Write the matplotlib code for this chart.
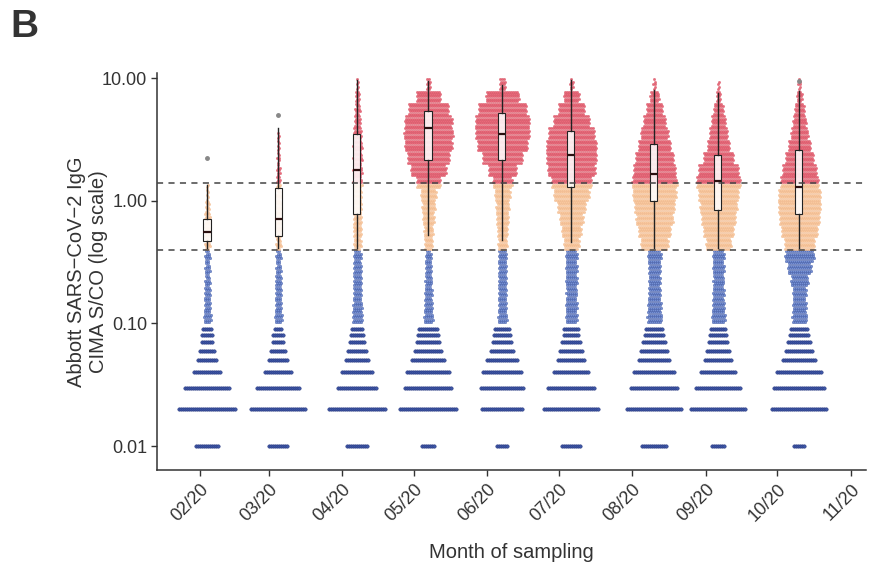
import numpy as np
import pandas as pd
import matplotlib
matplotlib.use("Agg")
import matplotlib.pyplot as plt
import matplotlib.dates as mdates

plt.rcParams['font.family'] = ['Liberation Sans', 'DejaVu Sans']

# ---- data ----
tick_labels = ['02/20', '03/20', '04/20', '05/20', '06/20', '07/20', '08/20', '09/20', '10/20', '11/20']
tick_dates = ['2020-02-01', '2020-03-01', '2020-04-01', '2020-05-01', '2020-06-01',
              '2020-07-01', '2020-08-01', '2020-09-01', '2020-10-01', '2020-11-01']
# where each monthly swarm is centred
centre_dates = ['2020-02-04', '2020-03-05', '2020-04-07', '2020-05-07', '2020-06-07',
                '2020-07-06', '2020-08-10', '2020-09-06', '2020-10-10']

# discrete low readings 0.01 .. 0.09 (dots per row)
low_levels = [0.01, 0.02, 0.03, 0.04, 0.05, 0.06, 0.07, 0.08, 0.09]
low_counts = [
    [12, 29, 23, 14, 10, 8, 6, 6, 5],
    [10, 28, 22, 14, 10, 8, 6, 6, 4],
    [11, 29, 20, 16, 12, 10, 8, 7, 6],
    [7, 29, 24, 22, 17, 14, 12, 11, 10],
    [6, 21, 22, 20, 16, 12, 10, 9, 8],
    [10, 28, 24, 18, 14, 12, 10, 8, 8],
    [13, 28, 24, 21, 16, 14, 12, 10, 9],
    [7, 28, 23, 18, 14, 12, 10, 9, 8],
    [6, 28, 26, 23, 17, 14, 12, 10, 9],
]

# dots per log bin (0.1 decade wide) from 0.1 up to 10
bin_edges = np.logspace(-1, 1, 21)
bin_counts = [
    [18, 15, 15, 12, 12, 12, 12, 15, 15, 10, 5, 2, 0, 0, 0, 0, 0, 0, 0, 0],
    [18, 15, 15, 15, 12, 12, 12, 15, 15, 15, 12, 10, 8, 6, 5, 3, 0, 0, 0, 0],
    [25, 22, 20, 20, 20, 18, 18, 20, 20, 20, 20, 22, 22, 22, 22, 20, 15, 12, 10, 5],
    [22, 20, 18, 16, 15, 14, 20, 22, 28, 32, 38, 60, 88, 105, 118, 122, 118, 100, 60, 10],
    [22, 20, 20, 20, 20, 20, 22, 25, 30, 32, 38, 48, 70, 100, 125, 135, 135, 120, 82, 15],
    [28, 28, 26, 28, 28, 28, 38, 48, 58, 70, 88, 100, 118, 125, 125, 115, 90, 65, 38, 8],
    [36, 33, 30, 28, 30, 33, 68, 80, 92, 100, 108, 112, 105, 95, 80, 68, 55, 40, 22, 6],
    [33, 30, 28, 26, 28, 28, 62, 75, 85, 92, 100, 110, 100, 75, 55, 45, 35, 24, 10, 4],
    [36, 33, 33, 42, 58, 72, 75, 90, 100, 105, 105, 95, 85, 70, 55, 42, 32, 24, 13, 6],
]

# box plots (computed over reactive samples)
box_low = [0.41, 0.41, 0.41, 0.53, 0.48, 0.46, 0.41, 0.41, 0.41]
box_q1 = [0.47, 0.52, 0.78, 2.13, 2.16, 1.29, 0.99, 0.845, 0.78]
box_med = [0.556, 0.71, 1.79, 3.92, 3.52, 2.34, 1.66, 1.44, 1.29]
box_q3 = [0.71, 1.28, 3.52, 5.36, 5.2, 3.68, 2.90, 2.37, 2.61]
box_high = [1.35, 3.92, 9.6, 9.4, 8.85, 9.6, 7.95, 7.57, 7.8]
box_out = [[2.23], [5.04], [], [], [], [], [], [], [9.4]]

cut_low, cut_high = 0.4, 1.4

# ---- figure ----
fig = plt.figure(figsize=(8.69, 5.71), dpi=100)
ax = fig.add_axes([0.1807, 0.1769, 0.8159, 0.6953])

x_lo = mdates.date2num(pd.Timestamp('2020-01-14'))
x_hi = mdates.date2num(pd.Timestamp('2020-11-07 08:00'))
ax.set_xlim(x_lo, x_hi)
ax.set_yscale('log')
ax.set_ylim(0.0064, 11)

# horizontal spacing of dots: ~2 px expressed in days
px_per_day = 0.8159 * 869 / (x_hi - x_lo)
dx = 2.0 / px_per_day

xs, ys = [], []


def add_row(cx, y, n, shift):
    for i in range(n):
        xs.append(cx + (i - (n - 1) / 2) * dx + shift)
        ys.append(y)


low_x, low_y = [], []
for m, cd in enumerate(centre_dates):
    cx = mdates.date2num(pd.Timestamp(cd))
    for lv, n in zip(low_levels, low_counts[m]):
        for i in range(n):
            low_x.append(cx + (i - (n - 1) / 2) * dx)
            low_y.append(lv)
    for b, n in enumerate(bin_counts[m]):
        if n == 0:
            continue
        lo = np.log10(bin_edges[b])
        rows = min(5, n)
        per = [n // rows] * rows
        for k in range(n % rows):
            per[k] += 1
        order = [2, 1, 3, 0, 4][:rows] if rows == 5 else list(range(rows))
        for r, cnt in zip(order, per):
            y = 10 ** (lo + (r + 0.5) * 0.02)
            add_row(cx, y, cnt, dx / 2 if r % 2 else 0)

xs = np.array(xs)
ys = np.array(ys)

blue = ys < cut_low
orange = (ys >= cut_low) & (ys < cut_high)
red = ys >= cut_high
ax.scatter(low_x, low_y, s=6, c='#3f58a8', edgecolors='#26367e', linewidths=0.4, zorder=2)
ax.scatter(xs[blue], ys[blue], s=3.0, c='#7590d4', edgecolors='#3d55a0', linewidths=0.3, zorder=2)
ax.scatter(xs[orange], ys[orange], s=2.8, c='#f8c9a0', edgecolors='#f0b080', linewidths=0.25, zorder=2)
ax.scatter(xs[red], ys[red], s=2.8, c='#e86a7b', edgecolors='#d44658', linewidths=0.25, zorder=2)

# boxes
stats = []
for m in range(len(centre_dates)):
    stats.append(dict(whislo=box_low[m], q1=box_q1[m], med=box_med[m], q3=box_q3[m],
                      whishi=box_high[m], fliers=box_out[m]))
pos = [mdates.date2num(pd.Timestamp(d)) for d in centre_dates]
ax.bxp(stats, positions=pos, widths=3.0, showcaps=False, patch_artist=True,
       boxprops=dict(facecolor=(1, 1, 1, 0.85), edgecolor='#222222', linewidth=0.8),
       medianprops=dict(color='#2a1010', linewidth=1.6),
       whiskerprops=dict(color='#222222', linewidth=1.0),
       flierprops=dict(marker='o', markersize=2.5, markerfacecolor='#888888',
                       markeredgecolor='#888888'),
       manage_ticks=False, zorder=3)

for h in (cut_low, cut_high):
    ax.axhline(h, color='#444444', linestyle=(0, (4, 3.5)), linewidth=1.1, zorder=4)

# axes styling
ax.set_xticks([mdates.date2num(pd.Timestamp(d)) for d in tick_dates])
ax.set_xticklabels(tick_labels, rotation=45, ha='right', rotation_mode='anchor')
ax.set_yticks([0.01, 0.1, 1, 10])
ax.set_yticklabels(['0.01', '0.10', '1.00', '10.00'])
ax.minorticks_off()
ax.tick_params(axis='both', labelsize=13, colors='#333333', length=4, width=1)
ax.tick_params(axis='y', pad=3)
for s in ('top', 'right'):
    ax.spines[s].set_visible(False)
for s in ('left', 'bottom'):
    ax.spines[s].set_color('#333333')
    ax.spines[s].set_linewidth(1.1)

ax.set_xlabel('Month of sampling', fontsize=14.5, color='#333333', labelpad=13)
ax.set_ylabel('Abbott SARS\u2212CoV\u22122 IgG\nCIMA S/CO (log scale)', fontsize=14.5,
              color='#333333', labelpad=-4)

fig.text(0.012, 0.985, 'B', fontsize=28, fontweight='bold', color='#333333', va='top', ha='left')

fig.savefig('out.png', dpi=100)
